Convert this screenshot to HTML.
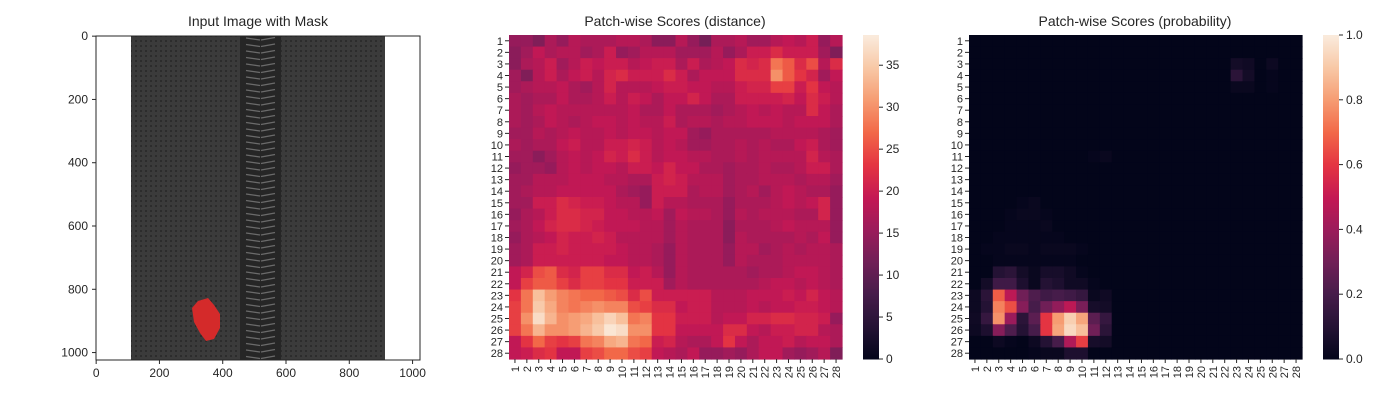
<!DOCTYPE html>
<html><head><meta charset="utf-8">
<style>
html,body{margin:0;padding:0;background:#fff;}
svg{display:block;font-family:"Liberation Sans","DejaVu Sans",sans-serif;}
</style></head>
<body>
<svg id="fig" width="1400" height="400" viewBox="0 0 1400 400">
<rect width="1400" height="400" fill="#fff"/>
<g id="p1">
<text x="258" y="26" font-size="14" text-anchor="middle" fill="#262626">Input Image with Mask</text>
<defs>
<pattern id="teeth" width="41" height="6.5" patternUnits="userSpaceOnUse" x="240" y="36">
<rect width="41" height="6.5" fill="#262626"/>
<path d="M6 2 L20 4 M21 4 L35 1.5" stroke="#6a6a6a" stroke-width="1.3"/>
</pattern>
<pattern id="weave" width="5" height="5" patternUnits="userSpaceOnUse">
<rect width="5" height="5" fill="#3b3b3b"/>
<rect width="2" height="2" fill="#2c2c2c"/>
</pattern>
</defs>
<rect x="96" y="36" width="324" height="324" fill="#fff"/>
<rect x="131" y="36" width="254" height="324" fill="url(#weave)"/>
<rect x="240" y="36" width="41" height="324" fill="url(#teeth)"/>
<path d="M198 301 L208 298 L214 305 L220 314 L220 328 L214 339 L206 341 L200 333 L194 322 L192 308 Z" fill="#d42a2a"/>
<rect x="96" y="36" width="324" height="324" fill="none" stroke="#262626" stroke-width="1"/>
<g id="p1ticks"></g>
</g>
<g id="h1">
<text x="675" y="26" font-size="14" text-anchor="middle" fill="#262626">Patch-wise Scores (distance)</text>
</g>
<g id="h2">
<text x="1135" y="26" font-size="14" text-anchor="middle" fill="#262626">Patch-wise Scores (probability)</text>
</g>
</svg>
<script>
const NS="http://www.w3.org/2000/svg";
const patchLabels=[1,2,3,4,5,6,7,8,9,10,11,12,13,14,15,16,17,18,19,20,21,22,23,24,25,26,27,28];
const distTicks=[0,5,10,15,20,25,30,35];
const probTicks=[0.0,0.2,0.4,0.6,0.8,1.0];
const imgTicks=[0,200,400,600,800,1000];
const distValues=[
[15,15,13,17,15,18,17,17,17,18,18,17,14,14,18,15,12,17,17,18,16,16,18,19,18,20,15,18],
[14,16,19,17,18,18,16,17,20,15,16,18,18,18,16,16,16,18,15,17,20,20,22,20,20,20,16,13],
[14,17,18,20,16,18,20,19,20,20,18,19,20,20,17,20,17,18,19,22,21,22,28,26,22,25,18,22],
[16,13,18,20,17,19,20,18,21,22,20,20,20,22,20,17,19,19,19,22,22,22,30,26,23,21,16,19],
[16,17,18,18,19,17,16,18,21,18,18,18,19,20,20,19,19,18,18,20,21,21,24,24,20,23,19,18],
[17,16,17,17,19,17,17,18,20,18,20,19,17,19,19,21,19,17,17,20,20,20,20,21,19,22,20,18],
[17,16,18,19,18,18,18,18,18,18,19,17,17,19,17,17,17,16,17,18,19,18,19,18,18,22,19,17],
[17,16,17,19,18,17,18,19,19,18,19,18,18,20,17,18,18,17,18,18,19,19,19,18,19,19,19,17],
[16,16,18,17,18,19,18,18,19,18,19,19,18,19,19,16,15,17,17,17,17,17,18,18,18,18,17,16],
[17,16,17,17,19,20,18,18,20,20,21,20,18,19,18,16,16,17,17,18,17,18,17,17,19,20,17,16],
[16,16,14,16,18,19,18,19,21,20,22,20,18,19,19,18,18,17,17,18,17,18,18,18,18,21,18,17],
[15,16,16,15,18,19,18,19,19,18,20,20,19,21,19,19,17,17,16,17,17,18,17,17,18,20,20,17],
[16,16,18,18,18,19,19,19,18,18,17,17,20,21,20,18,18,18,16,17,17,18,18,18,17,18,18,16],
[16,17,18,18,19,19,19,19,19,17,16,15,20,20,20,17,18,18,16,17,18,16,18,19,18,17,17,15],
[16,16,20,20,22,21,20,20,19,18,18,15,20,18,18,17,17,17,15,17,17,17,18,19,18,19,21,15],
[15,17,18,20,22,22,21,21,19,19,18,18,19,16,19,18,18,17,15,18,17,18,18,18,17,17,21,15],
[16,17,19,21,22,22,21,20,19,19,19,18,18,16,18,17,17,17,14,17,17,17,18,19,18,18,18,15],
[15,17,18,19,21,20,20,21,20,18,18,18,18,16,18,17,17,17,14,18,17,17,17,17,18,17,19,15],
[16,17,20,20,21,20,20,20,20,19,18,18,17,15,18,17,17,17,15,18,18,16,17,18,17,18,18,17],
[16,17,20,20,20,20,20,20,19,19,18,18,17,15,18,17,17,17,15,18,17,17,17,18,18,18,18,17],
[19,21,25,26,22,21,24,24,22,22,19,20,18,15,18,17,17,17,17,17,16,17,17,18,19,19,18,17],
[19,24,26,26,24,22,24,24,23,23,20,20,20,16,18,17,17,17,17,17,17,18,19,19,18,19,18,17],
[23,28,34,31,29,28,27,27,26,25,22,25,20,20,20,20,20,18,18,18,19,19,19,20,19,21,19,18],
[24,28,35,32,29,28,29,30,29,29,25,24,22,22,19,20,20,18,18,18,19,18,19,19,20,20,19,18],
[24,30,37,33,30,31,32,34,36,34,28,29,23,23,20,20,20,18,19,19,21,21,22,22,21,21,20,15],
[24,28,33,30,30,31,33,35,38,37,30,30,23,23,19,19,19,19,22,22,19,18,20,20,21,21,18,17],
[19,23,27,24,23,24,28,29,32,33,28,27,20,21,18,17,17,19,23,19,17,19,19,20,18,19,19,17],
[19,20,22,23,19,19,24,25,27,27,25,24,19,18,17,19,15,15,16,15,17,19,19,16,15,16,18,13]];
const probValues=[
[0,0,0,0,0,0,0,0,0,0,0,0,0,0,0,0,0,0,0,0,0,0,0,0,0,0,0,0],
[0,0,0,0,0,0,0,0,0,0,0,0,0,0,0,0,0,0,0,0,0,0,0,0,0,0,0,0],
[0,0,0,0,0,0,0,0,0,0,0,0,0,0,0,0,0,0,0,0,0,0,0.05,0.04,0,0.03,0,0],
[0,0,0,0,0,0,0,0,0,0,0,0,0,0,0,0,0,0,0,0,0,0,0.12,0.05,0,0.01,0,0],
[0,0,0,0,0,0,0,0,0,0,0,0,0,0,0,0,0,0,0,0,0,0,0.02,0.02,0,0.01,0,0],
[0,0,0,0,0,0,0,0,0,0,0,0,0,0,0,0,0,0,0,0,0,0,0,0,0,0,0,0],
[0,0,0,0,0,0,0,0,0,0,0,0,0,0,0,0,0,0,0,0,0,0,0,0,0,0,0,0],
[0,0,0,0,0,0,0,0,0,0,0,0,0,0,0,0,0,0,0,0,0,0,0,0,0,0,0,0],
[0,0,0,0,0,0,0,0,0,0,0,0,0,0,0,0,0,0,0,0,0,0,0,0,0,0,0,0],
[0,0,0,0,0,0,0,0,0,0,0,0,0,0,0,0,0,0,0,0,0,0,0,0,0,0,0,0],
[0,0,0,0,0,0,0,0,0,0,0.01,0.02,0,0,0,0,0,0,0,0,0,0,0,0,0,0,0,0],
[0,0,0,0,0,0,0,0,0,0,0,0,0,0,0,0,0,0,0,0,0,0,0,0,0,0,0,0],
[0,0,0,0,0,0,0,0,0,0,0,0,0,0,0,0,0,0,0,0,0,0,0,0,0,0,0,0],
[0,0,0,0,0,0,0,0,0,0,0,0,0,0,0,0,0,0,0,0,0,0,0,0,0,0,0,0],
[0,0,0,0,0.01,0.02,0,0,0,0,0,0,0,0,0,0,0,0,0,0,0,0,0,0,0,0,0,0],
[0,0,0,0.01,0.02,0.02,0.01,0,0,0,0,0,0,0,0,0,0,0,0,0,0,0,0,0,0,0,0,0],
[0,0,0,0.01,0.01,0.01,0.02,0,0,0,0,0,0,0,0,0,0,0,0,0,0,0,0,0,0,0,0,0],
[0,0,0.01,0.01,0.01,0.01,0.01,0.01,0,0,0,0,0,0,0,0,0,0,0,0,0,0,0,0,0,0,0,0],
[0,0.01,0.01,0.02,0.02,0.01,0.02,0.02,0.02,0.01,0,0,0,0,0,0,0,0,0,0,0,0,0,0,0,0,0,0],
[0,0,0.01,0.01,0.01,0.01,0.01,0.01,0.01,0,0,0,0,0,0,0,0,0,0,0,0,0,0,0,0,0,0,0],
[0,0,0.1,0.12,0.05,0.02,0.06,0.06,0.04,0.01,0,0,0,0,0,0,0,0,0,0,0,0,0,0,0,0,0,0],
[0,0.05,0.18,0.18,0.08,0.02,0.1,0.08,0.04,0.04,0.01,0,0,0,0,0,0,0,0,0,0,0,0,0,0,0,0,0],
[0.03,0.12,0.68,0.48,0.3,0.22,0.18,0.2,0.18,0.15,0.02,0.04,0,0,0,0,0,0,0,0,0,0,0,0,0,0,0,0],
[0.03,0.1,0.75,0.65,0.35,0.2,0.3,0.38,0.48,0.32,0.06,0.05,0,0,0,0,0,0,0,0,0,0,0,0,0,0,0,0],
[0.04,0.15,0.78,0.4,0.12,0.25,0.6,0.8,0.92,0.82,0.25,0.15,0,0,0,0,0,0,0,0,0,0,0,0,0,0,0,0],
[0.03,0.08,0.35,0.22,0.1,0.2,0.6,0.82,0.95,0.88,0.3,0.12,0,0,0,0,0,0,0,0,0,0,0,0,0,0,0,0],
[0,0,0.03,0.01,0,0.03,0.1,0.2,0.45,0.62,0.06,0.05,0,0,0,0,0,0,0,0,0,0,0,0,0,0,0,0],
[0,0,0,0,0,0.01,0.02,0.02,0.08,0.08,0,0,0,0,0,0,0,0,0,0,0,0,0,0,0,0,0,0]];

const stops=[[0,[3,5,26]],[0.1,[36,18,52]],[0.2,[70,28,74]],[0.3,[112,31,87]],[0.4,[155,27,91]],[0.5,[196,24,84]],[0.6,[228,52,66]],[0.7,[242,104,72]],[0.8,[246,156,114]],[0.9,[248,200,166]],[1,[250,235,221]]];
function rocket(t){t=Math.max(0,Math.min(1,t));for(let i=1;i<stops.length;i++){if(t<=stops[i][0]){const a=stops[i-1],b=stops[i];const f=(t-a[0])/(b[0]-a[0]);return 'rgb('+a[1].map((v,k)=>Math.round(v+(b[1][k]-v)*f)).join(',')+')';}}return 'rgb(250,235,221)';}
function mk(tag,attrs,parent){const e=document.createElementNS(NS,tag);for(const k in attrs)e.setAttribute(k,attrs[k]);parent.appendChild(e);return e;}

// image axis ticks
const p1=document.getElementById('p1ticks');
const ix=v=>96+(v+0.5)*324/1024, iy=v=>36+(v+0.5)*324/1024;
imgTicks.forEach(v=>{
  mk('line',{x1:ix(v),x2:ix(v),y1:360,y2:364,stroke:'#262626'},p1);
  const t=mk('text',{x:ix(v),y:377,'font-size':12,'text-anchor':'middle',fill:'#262626'},p1);t.textContent=v;
  
  
  mk('line',{x1:92,x2:96,y1:iy(v),y2:iy(v),stroke:'#262626'},p1);
  const u=mk('text',{x:88,y:iy(v)+4,'font-size':12,'text-anchor':'end',fill:'#262626'},p1);u.textContent=v;
  
  
});

function heatmap(gid,values,vmax,x0,cbx,ticks,fmt,name){
  const g=document.getElementById(gid);
  const y0=35,W=333,H=324,n=patchLabels.length,cw=W/n,ch=H/n;
  const xs=i=>x0+i*cw, ys=j=>y0+j*ch;
  values.forEach((row,j)=>row.forEach((v,i)=>{
    const r=mk('rect',{x:xs(i),y:ys(j),width:cw+0.6,height:ch+0.6,fill:rocket(v/vmax)},g);
    
    
  }));
  patchLabels.forEach((lab,i)=>{
    mk('line',{x1:x0-4,x2:x0,y1:ys(i)+ch/2,y2:ys(i)+ch/2,stroke:'#262626'},g);
    const t=mk('text',{x:x0-6,y:ys(i)+ch/2+4,'font-size':11,'text-anchor':'end',fill:'#262626'},g);t.textContent=lab;
    
    
    const cx=xs(i)+cw/2;
    mk('line',{x1:cx,x2:cx,y1:y0+H,y2:y0+H+4,stroke:'#262626'},g);
    const u=mk('text',{x:0,y:0,'font-size':11,'text-anchor':'end',fill:'#262626',transform:'translate('+(cx+4)+','+(y0+H+7)+') rotate(-90)'},g);u.textContent=lab;
    
    
  });
  // colorbar
  const cb=mk('g',{},g);
  
  
  for(let k=0;k<162;k++){mk('rect',{x:cbx,y:y0+H-(k+1)*2,width:16,height:2.5,fill:rocket((k+0.5)/162)},cb);}
  ticks.forEach(v=>{
    const y=y0+H-v/vmax*H;
    mk('line',{x1:cbx+16,x2:cbx+20,y1:y,y2:y,stroke:'#262626'},cb);
    const t=mk('text',{x:cbx+23,y:y+4,'font-size':12,fill:'#262626'},cb);t.textContent=fmt(v);
    
    
  });
}
heatmap('h1',distValues,38.6,509,863,distTicks,v=>String(v),'distance');
heatmap('h2',probValues,1.0,969,1323,probTicks,v=>v.toFixed(1),'probability');
</script>
</body></html>
